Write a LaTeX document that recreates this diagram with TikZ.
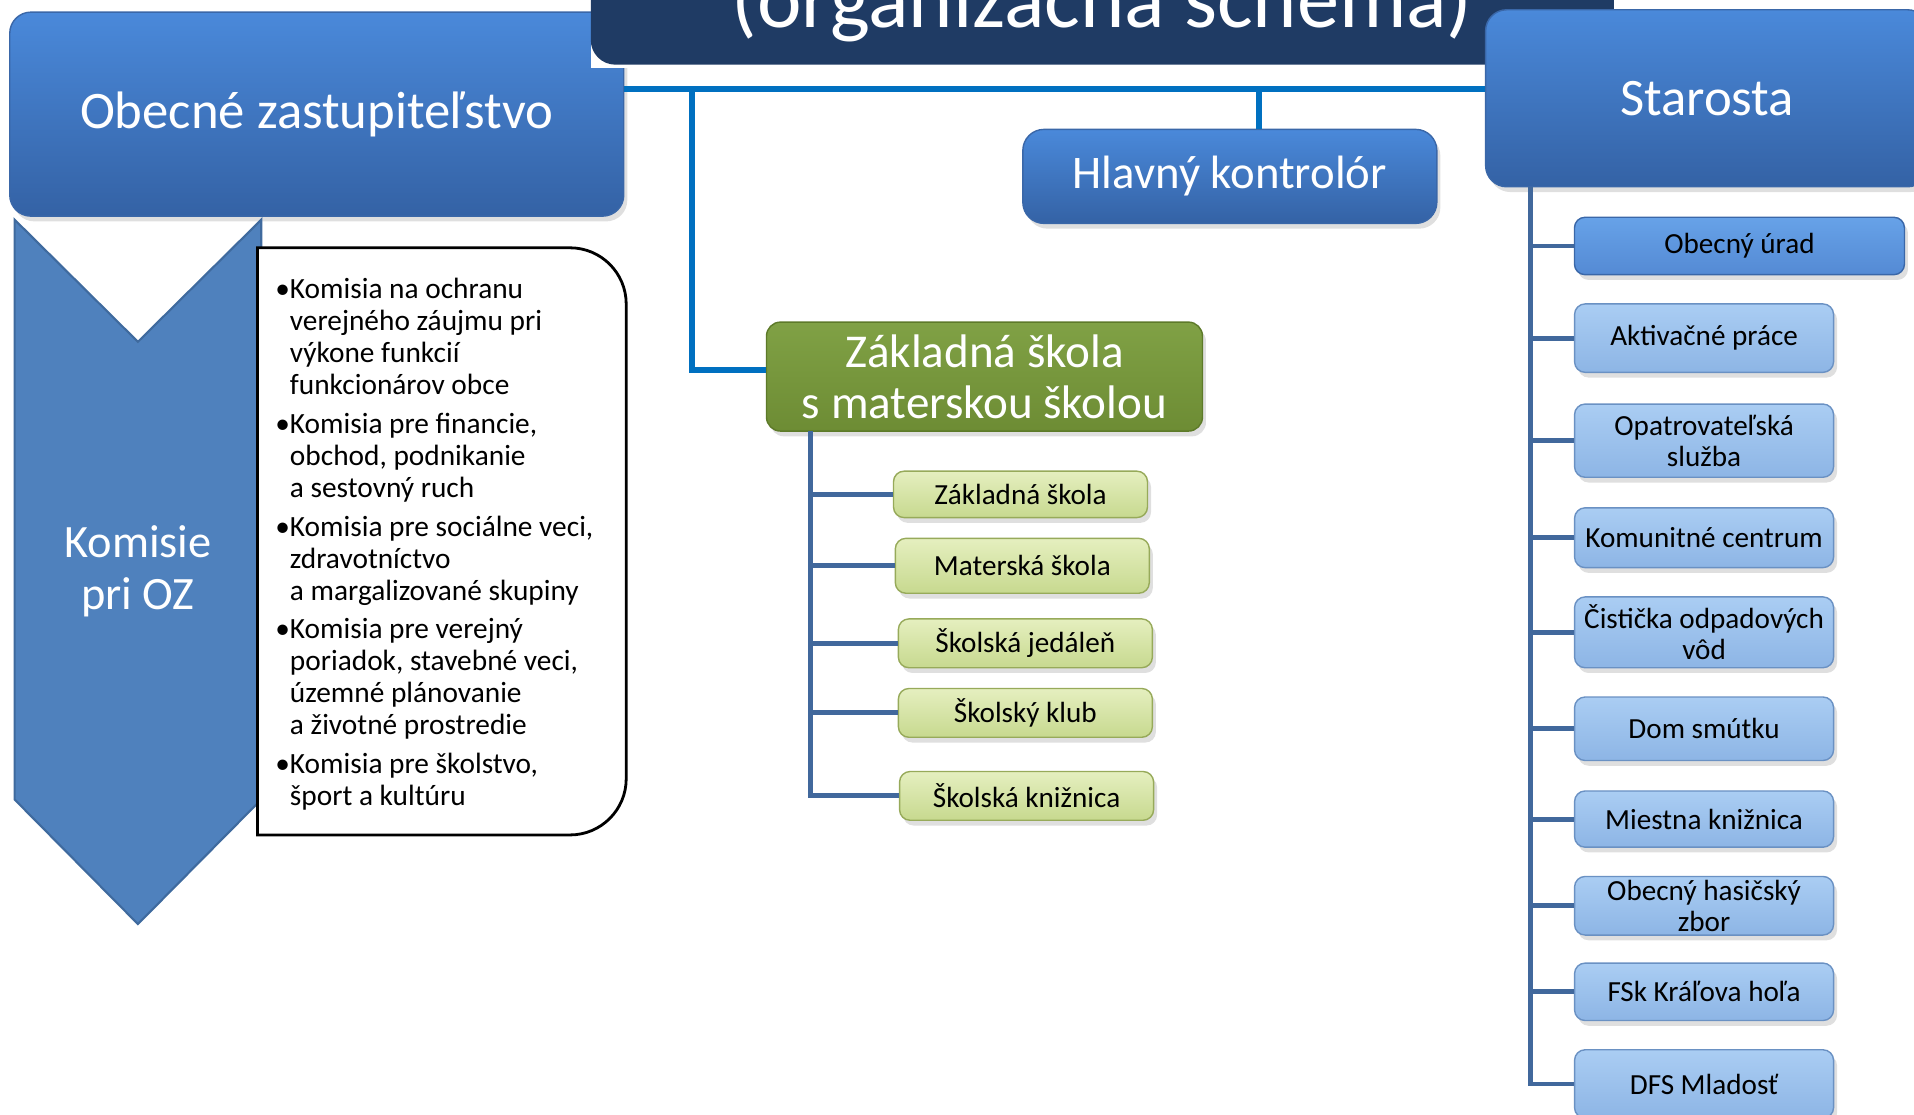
\documentclass[tikz,border=0pt]{standalone}
\usepackage{fontspec}
\setmainfont{Carlito}
\usetikzlibrary{shadows}

\definecolor{navy}{HTML}{1F3B64}
\definecolor{boxtop}{HTML}{4A89DA}
\definecolor{boxbot}{HTML}{3462A5}
\definecolor{boxline}{HTML}{3A67A8}
\definecolor{mainline}{HTML}{0070C0}
\definecolor{trunk}{HTML}{41689C}
\definecolor{greentop}{HTML}{80A145}
\definecolor{greenbot}{HTML}{6D8C34}
\definecolor{greenline}{HTML}{5D7A29}
\definecolor{ltgreentop}{HTML}{E5EFBF}
\definecolor{ltgreenbot}{HTML}{C7D98F}
\definecolor{ltgreenline}{HTML}{97AA5A}
\definecolor{ltbluetop}{HTML}{AACDF3}
\definecolor{ltbluebot}{HTML}{8DB5E5}
\definecolor{ltblueline}{HTML}{6A91C3}
\definecolor{midbluetop}{HTML}{67A2E8}
\definecolor{midbluebot}{HTML}{548AD4}
\definecolor{chevron}{HTML}{4F81BD}
\definecolor{chevronline}{HTML}{3F6A9E}

\tikzset{
  softshadow/.style={drop shadow={opacity=0.25, shadow xshift=1pt, shadow yshift=-1.5pt}},
  bigbox/.style={draw=boxline, top color=boxtop, bottom color=boxbot, rounded corners=6pt,
    text=white, inner sep=0pt, align=center, softshadow},
  greenbox/.style={draw=greenline, top color=greentop, bottom color=greenbot, rounded corners=4pt,
    text=white, inner sep=0pt, align=center, softshadow},
  ltgreenbox/.style={draw=ltgreenline, top color=ltgreentop, bottom color=ltgreenbot, rounded corners=3pt,
    inner sep=0pt, minimum width=2.54cm, font=\fontsize{8.3}{8.8}\selectfont, softshadow},
  ltbluebox/.style={draw=ltblueline, top color=ltbluetop, bottom color=ltbluebot, rounded corners=3pt,
    inner sep=0pt, minimum width=2.59cm, align=center, font=\fontsize{8.3}{8.8}\selectfont, softshadow},
  topline/.style={draw=mainline, line width=1.7pt},
  trunkline/.style={draw=trunk, line width=1.4pt}
}

\begin{document}
\begin{tikzpicture}[x=0.012207cm, y=-0.012207cm]
  \useasboundingbox (0,0) rectangle (1568,913);

  % Obecne zastupitelstvo
  \node[bigbox, minimum width=6.14cm, minimum height=2.04cm, font=\fontsize{15}{18}\selectfont]
    (oz) at (259.5,93.5) {Obecné zastupiteľstvo};

  % title
  \fill[white] (484,-60) rectangle (1322,56);
  \node[fill=navy, rounded corners=7pt, inner sep=0pt, minimum width=10.23cm, minimum height=1.22cm,
    text=white, font=\fontsize{24}{28}\selectfont] (title) at (903,3) {(organizačná schéma)};

  % Starosta and Hlavny kontrolor
  \node[bigbox, minimum width=4.43cm, minimum height=1.77cm, font=\fontsize{15}{18}\selectfont]
    (starosta) at (1398.5,80.5) {Starosta};
  \node[bigbox, minimum width=4.14cm, minimum height=0.94cm, font=\fontsize{13.3}{16}\selectfont]
    (kontrolor) at (1007.5,144.5) {Hlavný kontrolór};

  % Zakladna skola s materskou skolou
  \node[greenbox, minimum width=4.36cm, minimum height=1.09cm, font=\fontsize{13.4}{14.5}\selectfont]
    (zsms) at (806.5,308.5) {Základná škola\\s materskou školou};

  \node[ltgreenbox, minimum height=0.464cm] (zs) at (836,405) {Základná škola};
  \node[ltgreenbox, minimum height=0.549cm] (ms) at (837.5,463.5) {Materská škola};
  \node[ltgreenbox, minimum height=0.488cm] (jedalen) at (840,527) {Školská jedáleň};
  \node[ltgreenbox, minimum height=0.488cm] (klub) at (840,584) {Školský klub};
  \node[ltgreenbox, minimum height=0.488cm] (kniznica) at (841,652) {Školská knižnica};

  % top connectors
  \coordinate (bus) at (0,73);
  \coordinate (zsdrop) at (567,73);
  \draw[topline] (oz.east |- bus) -- (starosta.west |- bus);
  \draw[topline] ([xshift=8.3pt]kontrolor.north |- bus) -- ([xshift=8.3pt]kontrolor.north);
  \draw[topline] (zsdrop) |- ([yshift=1.8pt]zsms.west);

  % school branches
  \coordinate (gtop) at (664,353);
  \draw[trunkline] (gtop) |- (kniznica.west);
  \draw[trunkline] (gtop |- zs.west) -- (zs.west);
  \draw[trunkline] (gtop |- ms.west) -- (ms.west);
  \draw[trunkline] (gtop |- jedalen.west) -- (jedalen.west);
  \draw[trunkline] (gtop |- klub.west) -- (klub.west);

  % Starosta branches
  \node[ltbluebox, top color=midbluetop, bottom color=midbluebot, draw=boxline, minimum width=3.30cm,
    minimum height=0.574cm] (urad) at (1425,201.5) {Obecný úrad};
  \node[ltbluebox, minimum height=0.684cm] (aktiv) at (1396,277) {Aktivačné práce};
  \node[ltbluebox, minimum height=0.732cm] (opatr) at (1396,361) {Opatrovateľská\\služba};
  \node[ltbluebox, minimum height=0.598cm] (komun) at (1396,440.5) {Komunitné centrum};
  \node[ltbluebox, minimum height=0.708cm] (cov) at (1396,518) {Čistička odpadových\\vôd};
  \node[ltbluebox, minimum height=0.635cm] (dom) at (1396,597) {Dom smútku};
  \node[ltbluebox, minimum height=0.562cm] (miestna) at (1396,671) {Miestna knižnica};
  \node[ltbluebox, minimum height=0.586cm] (hasici) at (1396,742) {Obecný hasičský\\zbor};
  \node[ltbluebox, minimum height=0.574cm] (fsk) at (1396,812.5) {FSk Kráľova hoľa};
  \node[ltbluebox, minimum height=0.684cm] (dfs) at (1396,888) {DFS Mladosť};

  \coordinate (stop) at (1254,153);
  \draw[trunkline] (stop) |- (dfs.west);
  \draw[trunkline] (stop |- urad.west) -- (urad.west);
  \draw[trunkline] (stop |- aktiv.west) -- (aktiv.west);
  \draw[trunkline] (stop |- opatr.west) -- (opatr.west);
  \draw[trunkline] (stop |- komun.west) -- (komun.west);
  \draw[trunkline] (stop |- cov.west) -- (cov.west);
  \draw[trunkline] (stop |- dom.west) -- (dom.west);
  \draw[trunkline] (stop |- miestna.west) -- (miestna.west);
  \draw[trunkline] (stop |- hasici.west) -- (hasici.west);
  \draw[trunkline] (stop |- fsk.west) -- (fsk.west);

  % Komisie chevron and list
  \filldraw[fill=chevron, draw=chevronline, line width=0.6pt]
    (12,180) -- (113,280) -- (214,180) -- (214,655) -- (113,757) -- (12,655) -- cycle;
  \node[text=white, align=center, font=\fontsize{13.2}{14.9}\selectfont] (komisie) at (113,468) {Komisie\\pri OZ};
  \draw[fill=white, line width=0.8pt] (211,684) -- (211,203) [rounded corners=16pt] -- (513,203) -- (513,684)
    [sharp corners] -- (211,684) -- cycle;
  \node[anchor=north west, inner sep=0pt, font=\fontsize{8.35}{9.1}\selectfont] (komlist) at (225,226) {%
    \begin{tabular}{@{}l@{}l@{}}
    •&Komisia na ochranu\\
    &verejného záujmu pri\\
    &výkone funkcií\\
    &funkcionárov obce\\[1.9pt]
    •&Komisia pre financie,\\
    &obchod, podnikanie\\
    &a sestovný ruch\\[1.9pt]
    •&Komisia pre sociálne veci,\\
    &zdravotníctvo\\
    &a margalizované skupiny\\[1.9pt]
    •&Komisia pre verejný\\
    &poriadok, stavebné veci,\\
    &územné plánovanie\\
    &a životné prostredie\\[1.9pt]
    •&Komisia pre školstvo,\\
    &šport a kultúru
    \end{tabular}};
\end{tikzpicture}
\end{document}
